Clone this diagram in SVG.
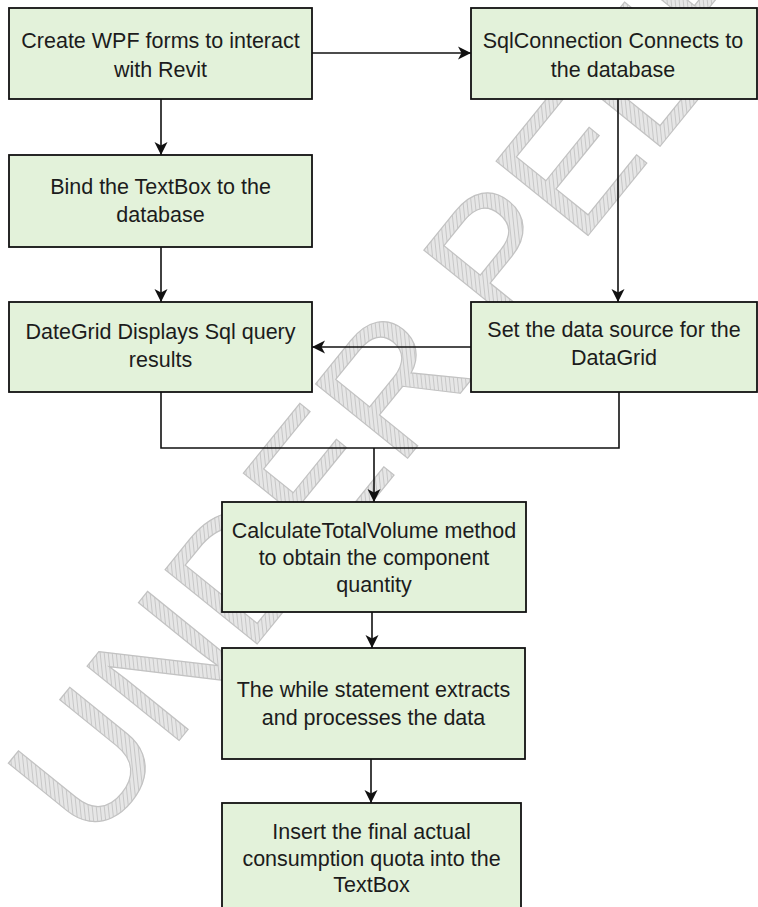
<svg xmlns="http://www.w3.org/2000/svg" width="758" height="907" viewBox="0 0 758 907">
<style>
.box{fill:#e3f2da;stroke:#111;stroke-width:1.8}
.lbl{font-family:"Liberation Sans",Arial,sans-serif;font-size:21.5px;fill:#1c1c1c;text-anchor:middle}
.con{fill:none;stroke:#111;stroke-width:1.6}
.wm{font-family:"Liberation Sans",Arial,sans-serif;font-size:172px;fill:url(#hatch);stroke:#c2c2c2;stroke-width:1.2}
</style>
<defs>
<pattern id="hatch" width="4" height="4" patternUnits="userSpaceOnUse" patternTransform="rotate(45)">
<rect width="4" height="4" fill="#e6e6e6"/>
<line x1="0" y1="0" x2="0" y2="4" stroke="#c4c4c4" stroke-width="1.8"/>
</pattern>
<marker id="arr" markerUnits="userSpaceOnUse" markerWidth="16" markerHeight="16" viewBox="-14 -8 16 16" refX="0" refY="0" orient="auto">
<path d="M0,0 L-13,-6.5 L-9.5,0 L-13,6.5 Z" fill="#111"/>
</marker>
</defs>
<rect width="758" height="907" fill="#fff"/>
<g id="watermark">
<text class="wm" transform="translate(92,848) rotate(-51)">UNDER PEER REVIEW</text>
</g>
<g id="connectors">
<path class="con" d="M312,53 H471" marker-end="url(#arr)"/>
<path class="con" d="M161,99 V155" marker-end="url(#arr)"/>
<path class="con" d="M161,247 V302" marker-end="url(#arr)"/>
<path class="con" d="M618,99 V302" marker-end="url(#arr)"/>
<path class="con" d="M471,347 H312" marker-end="url(#arr)"/>
<path class="con" d="M161,392 V448 H619 V392"/>
<path class="con" d="M374,448 V502" marker-end="url(#arr)"/>
<path class="con" d="M372,612 V648" marker-end="url(#arr)"/>
<path class="con" d="M371,759 V803" marker-end="url(#arr)"/>
</g>
<g id="n1">
<rect class="box" x="9" y="8" width="303" height="91"/>
<text class="lbl" x="160.5" y="48">Create WPF forms to interact</text>
<text class="lbl" x="160.5" y="76.5">with Revit</text>
</g>
<g id="n2">
<rect class="box" x="471" y="8" width="286" height="91"/>
<text class="lbl" x="613" y="48">SqlConnection Connects to</text>
<text class="lbl" x="613" y="76.5">the database</text>
</g>
<g id="n3">
<rect class="box" x="9" y="155" width="303" height="92"/>
<text class="lbl" x="160.5" y="194">Bind the TextBox to the</text>
<text class="lbl" x="160.5" y="222">database</text>
</g>
<g id="n4">
<rect class="box" x="9" y="302" width="303" height="90"/>
<text class="lbl" x="160.5" y="338.5">DateGrid Displays Sql query</text>
<text class="lbl" x="160.5" y="367">results</text>
</g>
<g id="n5">
<rect class="box" x="471" y="302" width="286" height="90"/>
<text class="lbl" x="614" y="337">Set the data source for the</text>
<text class="lbl" x="614" y="364.5">DataGrid</text>
</g>
<g id="n6">
<rect class="box" x="222" y="502" width="304" height="110"/>
<text class="lbl" x="374" y="537.5">CalculateTotalVolume method</text>
<text class="lbl" x="374" y="565">to obtain the component</text>
<text class="lbl" x="374" y="592">quantity</text>
</g>
<g id="n7">
<rect class="box" x="222" y="648" width="303" height="111"/>
<text class="lbl" x="373.5" y="697">The while statement extracts</text>
<text class="lbl" x="373.5" y="724.5">and processes the data</text>
</g>
<g id="n8">
<rect class="box" x="222" y="803" width="299" height="112"/>
<text class="lbl" x="371.5" y="838.5">Insert the final actual</text>
<text class="lbl" x="371.5" y="866">consumption quota into the</text>
<text class="lbl" x="371.5" y="892">TextBox</text>
</g>
</svg>
